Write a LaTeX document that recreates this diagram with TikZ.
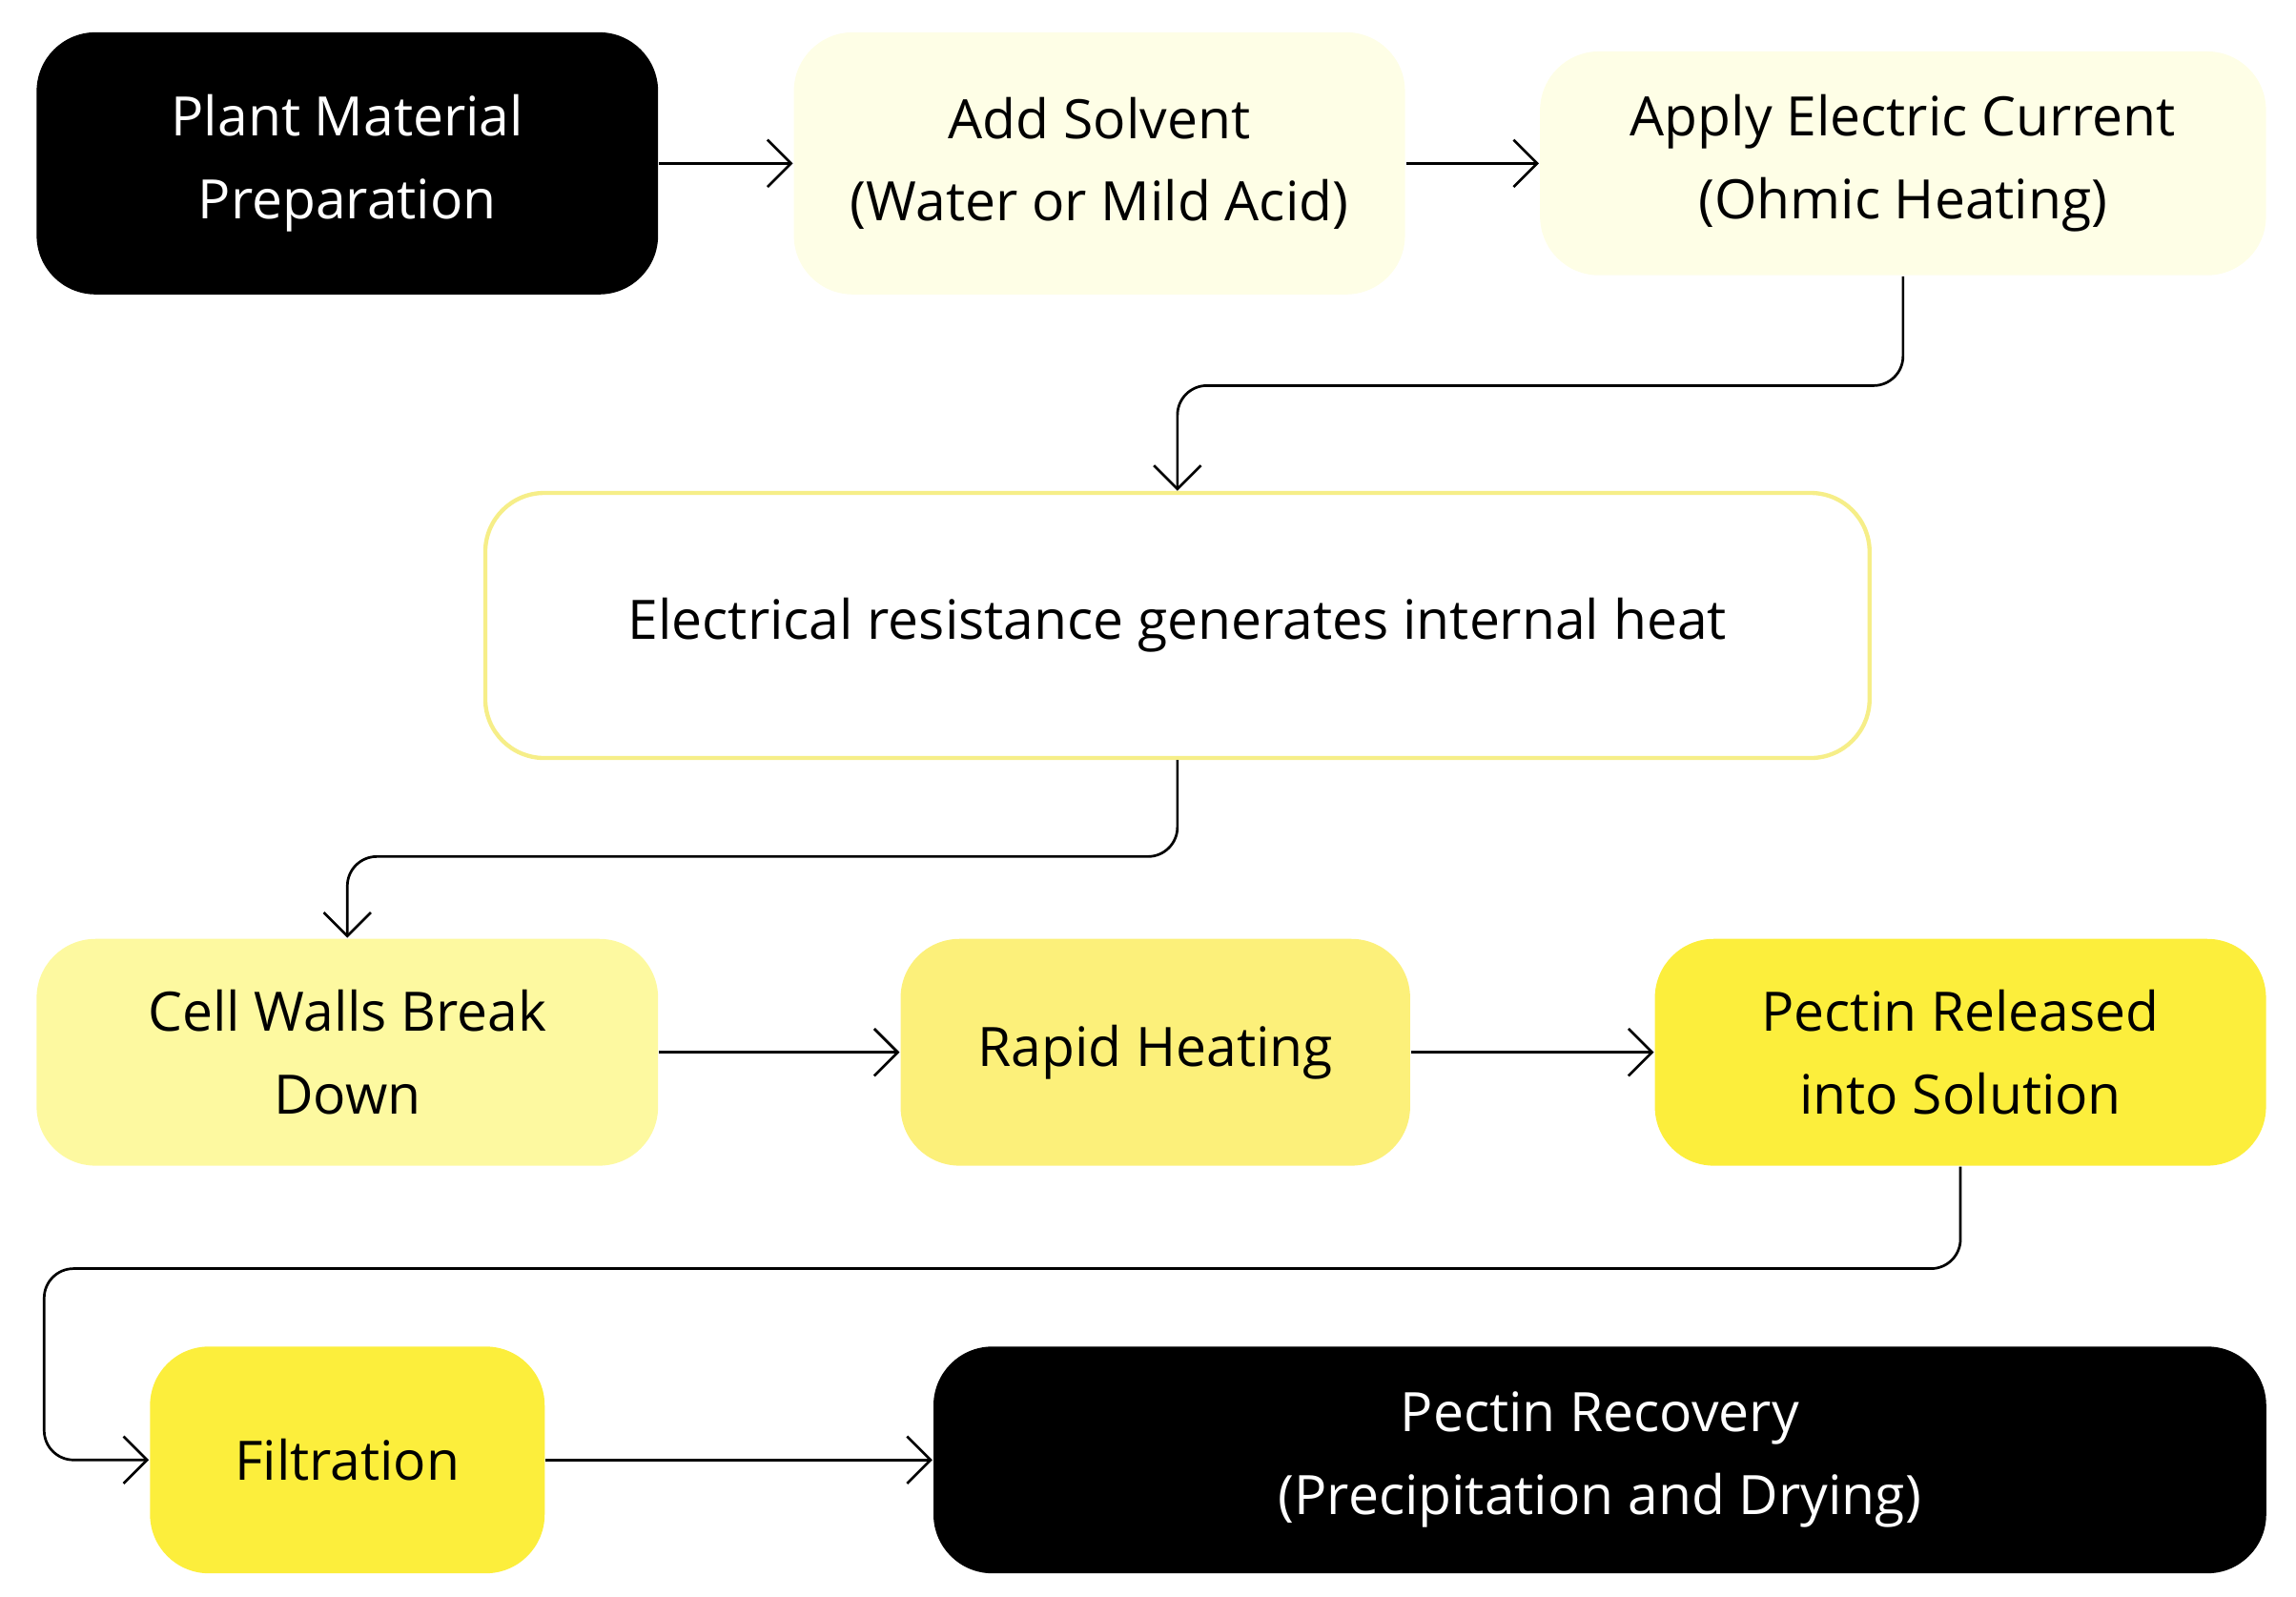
\documentclass[tikz,border=0pt]{standalone}
\usepackage{fontspec}
\setmainfont{Open Sans}
\usetikzlibrary{arrows.meta}
\definecolor{paleyel}{HTML}{FEFEE6}
\definecolor{lightyel}{HTML}{FDF9A0}
\definecolor{midyel}{HTML}{FCF07A}
\definecolor{strongyel}{HTML}{FCEE3C}
\definecolor{edgeyel}{HTML}{F6EE88}
\begin{document}
\begin{tikzpicture}[x=0.01cm,y=-0.01cm]
	\tikzset{box/.style={rounded corners=0.4cm, align=center, inner sep=0pt,
		font=\fontsize{10.5}{16}\selectfont}}
	\tikzset{dark/.style={box, fill=black, text=white}}
	\tikzset{stage/.style={box, text=black}}
	\tikzset{flow/.style={draw=black, line width=0.5pt, rounded corners=0.2cm,
		-{Straight Barb[length=1.6mm,width=3.2mm]}}}
	\useasboundingbox (0,0) rectangle (1560,1085);
	\node[dark, minimum width=4.22cm, minimum height=1.78cm]	(plant)	at (236,111)	{Plant Material\\Preparation};
	\node[stage, fill=paleyel, minimum width=4.15cm, minimum height=1.78cm]	(solvent)	at (747,111)	{Add Solvent\\(Water or Mild Acid)};
	\node[stage, fill=paleyel, minimum width=4.93cm, minimum height=1.52cm]	(current)	at (1293,111)	{Apply Electric Current\\(Ohmic Heating)};
	\node[stage, fill=white, draw=edgeyel, line width=0.8pt, minimum width=9.4cm, minimum height=1.8cm]	(heat)	at (800,425)	{Electrical resistance generates internal heat};
	\node[stage, fill=lightyel, minimum width=4.22cm, minimum height=1.54cm]	(walls)	at (236,715)	{Cell Walls Break\\Down};
	\node[stage, fill=midyel, minimum width=3.46cm, minimum height=1.54cm]	(rapid)	at (785,715)	{Rapid Heating};
	\node[stage, fill=strongyel, minimum width=4.15cm, minimum height=1.54cm]	(released)	at (1332,715)	{Pectin Released\\into Solution};
	\node[stage, fill=strongyel, minimum width=2.68cm, minimum height=1.54cm]	(filter)	at (236,992)	{Filtration};
	\node[dark, minimum width=9.05cm, minimum height=1.54cm]	(recovery)	at (1087,992)	{Pectin Recovery\\(Precipitation and Drying)};

	\draw[flow] (plant) -- (solvent);
	\draw[flow] (solvent) -- (current);
	\draw[flow] (current.south) |- (800,262) -- (heat.north);
	\draw[flow] (heat.south) |- (236,582) -- (walls.north);
	\draw[flow] (walls) -- (rapid);
	\draw[flow] (rapid) -- (released);
	\draw[flow] (released.south) |- (30,862) |- (filter.west);
	\draw[flow] (filter) -- (recovery);
\end{tikzpicture}
\end{document}
